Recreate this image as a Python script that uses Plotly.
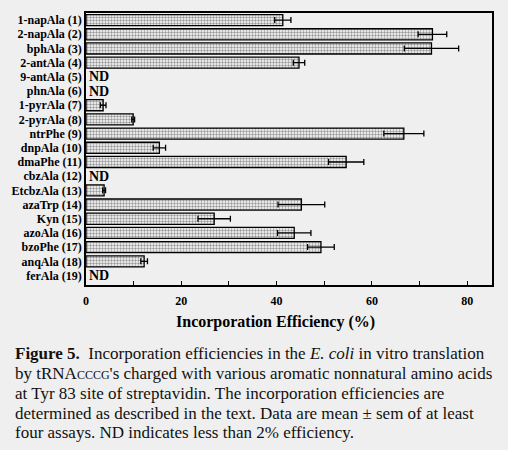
import plotly.graph_objects as go

# amino acids (y categories), top to bottom
labels = ["1-napAla (1)", "2-napAla (2)", "bphAla (3)", "2-antAla (4)", "9-antAla (5)",
          "phnAla (6)", "1-pyrAla (7)", "2-pyrAla (8)", "ntrPhe (9)", "dnpAla (10)",
          "dmaPhe (11)", "cbzAla (12)", "EtcbzAla (13)", "azaTrp (14)", "Kyn (15)",
          "azoAla (16)", "bzoPhe (17)", "anqAla (18)", "ferAla (19)"]
# incorporation efficiency (%), None = ND
efficiency = [41.3, 72.7, 72.5, 44.7, None, None, 3.6, 9.9, 66.7, 15.4,
              54.6, None, 3.8, 45.2, 26.9, 43.7, 49.3, 12.2, None]
sem = [1.7, 3.0, 5.7, 1.2, None, None, 0.6, 0.3, 4.2, 1.3,
       3.7, None, 0.3, 4.9, 3.4, 3.5, 2.8, 0.7, None]

x_ticks = [0, 10, 20, 30, 40, 50, 60, 70, 80]
x_ticktext = ["0", "", "20", "", "40", "", "60", "", "80"]

caption = [
    "<b>Figure 5.</b>  Incorporation efficiencies in the <i>E. coli</i> in vitro translation",
    "by tRNA<span style='font-size:12px'>CCCG</span>'s charged with various aromatic nonnatural amino acids",
    "at Tyr 83 site of streptavidin. The incorporation efficiencies are",
    "determined as described in the text. Data are mean \u00b1 sem of at least",
    "four assays. ND indicates less than 2% efficiency.",
]

serif = "Liberation Serif"
bg = "#efefef"

# page body has an 8px margin, so the figure is 8px smaller and offsets are shifted
off = 8
plot_l, plot_t, plot_w, plot_h = 86 - off, 13 - off, 406, 272
axis_bottom = 285

fig = go.Figure()
fig.add_trace(go.Bar(
    y=labels,
    x=efficiency,
    orientation="h",
    marker=dict(color="white", line=dict(color="black", width=1.3),
                pattern=dict(shape=".", fgcolor="#333333", bgcolor="white", size=3, solidity=0.5)),
    error_x=dict(type="data", array=sem, visible=True, color="black", thickness=1.3, width=3),
    showlegend=False,
))

# ND labels
for lab, v in zip(labels, efficiency):
    if v is None:
        fig.add_annotation(x=0, y=lab, xref="x", yref="y", text="ND", showarrow=False,
                           xanchor="left", xshift=1, font=dict(family=serif, size=14, color="black", weight="bold"))

# axis title
fig.add_annotation(x=(275 - 86) / plot_w, y=(axis_bottom - 322) / plot_h, xref="paper", yref="paper",
                   text="<b>Incorporation Efficiency (%)</b>", showarrow=False,
                   xanchor="center", yanchor="middle", font=dict(family=serif, size=16, color="black"))

# caption lines
for i, line in enumerate(caption):
    fig.add_annotation(x=(13 - 86) / plot_w, y=(axis_bottom - (353 + 20 * i)) / plot_h,
                       xref="paper", yref="paper",
                       text=line, showarrow=False, xanchor="left", yanchor="middle",
                       font=dict(family=serif, size=17, color="#111111"))

fig.update_layout(
    width=508 - off, height=450 - off,
    margin=dict(l=plot_l, r=508 - off - plot_l - plot_w, t=plot_t, b=450 - off - plot_t - plot_h),
    paper_bgcolor=bg, plot_bgcolor=bg,
    bargap=0.22,
)
fig.update_xaxes(range=[0, 85.2], tickvals=x_ticks, ticktext=x_ticktext, ticks="inside", ticklen=4,
                 tickcolor="black", showgrid=False, zeroline=False, showline=True, mirror=True,
                 linecolor="black", linewidth=1.5, ticklabelstandoff=4, automargin=False,
                 tickfont=dict(family=serif, size=12, color="black", weight="bold"))
fig.update_yaxes(type="category", autorange="reversed", ticks="", showgrid=False,
                 showline=True, mirror=True, linecolor="black", linewidth=1.5, automargin=False,
                 tickfont=dict(family=serif, size=12, color="black", weight="bold"))

# paint the page margin the same grey as the figure
fig.write_html("out.html", post_script="document.body.style.background='%s';" % bg)
